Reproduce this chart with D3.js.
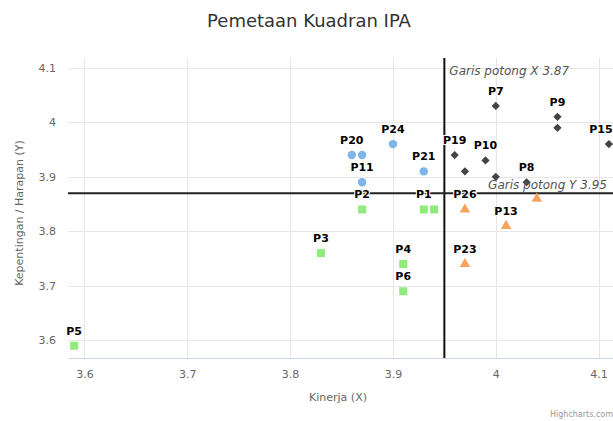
<!DOCTYPE html>
<html>
<head>
<meta charset="utf-8">
<script src="https://cdn.jsdelivr.net/npm/d3@7"></script>
<style>
  body { margin: 0; background: #fff; }
  svg { display: block; font-family: 'DejaVu Sans', sans-serif; }
</style>
</head>
<body>
<div id="chart"></div>
<script>
// quadrant series (label '' = hidden label)
const greenNames = ['P5', 'P3', 'P2', 'P1', '', 'P4', 'P6']
const greenX = [3.59, 3.83, 3.87, 3.93, 3.94, 3.91, 3.91]
const greenY = [3.59, 3.76, 3.84, 3.84, 3.84, 3.74, 3.69]

const blueNames = ['P20', '', 'P24', 'P11', 'P21']
const blueX = [3.86, 3.87, 3.9, 3.87, 3.93]
const blueY = [3.94, 3.94, 3.96, 3.89, 3.91]

const blackNames = ['P19', '', 'P10', '', 'P7', 'P9', '', 'P15', 'P8']
const blackX = [3.96, 3.97, 3.99, 4.0, 4.0, 4.06, 4.06, 4.11, 4.03]
const blackY = [3.94, 3.91, 3.93, 3.9, 4.03, 4.01, 3.99, 3.96, 3.89]

const orangeNames = ['P26', 'P13', 'P23', '']
const orangeX = [3.97, 4.01, 3.97, 4.04]
const orangeY = [3.84, 3.81, 3.74, 3.86]

const xTicks = [3.6, 3.7, 3.8, 3.9, 4, 4.1]
const yTicks = [3.6, 3.7, 3.8, 3.9, 4, 4.1]
const cutX = 3.95
const cutY = 3.87

const width = 613
const height = 421
const margin = { top: 58, left: 68, right: 0, bottom: 63 }

const svg = d3
  .select('#chart')
  .append('svg')
  .attr('width', width)
  .attr('height', height)

const x = d3.scaleLinear().domain([3.584, 4.114]).range([margin.left, width - margin.right])
const y = d3.scaleLinear().domain([3.5675, 4.118]).range([height - margin.bottom, margin.top])

// title
svg.append('text')
  .attr('x', 309)
  .attr('y', 27)
  .attr('text-anchor', 'middle')
  .attr('font-size', 18)
  .attr('fill', '#333')
  .text('Pemetaan Kuadran IPA')

// grid
svg.append('g')
  .selectAll('line')
  .data(yTicks)
  .enter()
  .append('line')
  .attr('x1', margin.left)
  .attr('x2', width)
  .attr('y1', d => Math.round(y(d)) + 0.5)
  .attr('y2', d => Math.round(y(d)) + 0.5)
  .attr('stroke', '#e6e6e6')

svg.append('g')
  .selectAll('line')
  .data(xTicks)
  .enter()
  .append('line')
  .attr('x1', d => Math.round(x(d)) + 0.5)
  .attr('x2', d => Math.round(x(d)) + 0.5)
  .attr('y1', margin.top)
  .attr('y2', height - margin.bottom)
  .attr('stroke', '#e6e6e6')

// axes
const xAxis = svg.append('g')
  .attr('transform', 'translate(0,' + (height - margin.bottom) + ')')
  .call(d3.axisBottom(x).tickValues(xTicks).tickSize(0).tickPadding(12).tickFormat(d3.format('')))
xAxis.select('.domain').attr('stroke', '#ccd6eb')

const yAxis = svg.append('g')
  .attr('transform', 'translate(' + (margin.left - 12) + ',0)')
  .call(d3.axisLeft(y).tickValues(yTicks).tickSize(0).tickPadding(0).tickFormat(d3.format('')))
yAxis.select('.domain').remove()

svg.selectAll('.tick text')
  .attr('fill', '#666')
  .attr('font-size', 11)
  .attr('font-family', 'DejaVu Sans, sans-serif')

svg.append('text')
  .attr('x', 338)
  .attr('y', 401)
  .attr('text-anchor', 'middle')
  .attr('font-size', 11)
  .attr('fill', '#666')
  .text('Kinerja (X)')

svg.append('text')
  .attr('transform', 'translate(23,' + 213 + ') rotate(-90)')
  .attr('text-anchor', 'middle')
  .attr('font-size', 11)
  .attr('fill', '#666')
  .text('Kepentingan / Harapan (Y)')

svg.append('text')
  .attr('x', 613)
  .attr('y', 417)
  .attr('text-anchor', 'end')
  .attr('font-size', 8)
  .attr('fill', '#999')
  .text('Highcharts.com')

// cut lines
svg.append('line')
  .attr('x1', x(cutX))
  .attr('x2', x(cutX))
  .attr('y1', margin.top)
  .attr('y2', height - margin.bottom)
  .attr('stroke', '#111')
  .attr('stroke-width', 2)

svg.append('line')
  .attr('x1', margin.left)
  .attr('x2', width)
  .attr('y1', y(cutY))
  .attr('y2', y(cutY))
  .attr('stroke', '#222')
  .attr('stroke-width', 2)

svg.append('text')
  .attr('x', x(cutX) + 5)
  .attr('y', 75)
  .attr('font-size', 12)
  .attr('font-style', 'italic')
  .attr('fill', '#555')
  .text('Garis potong X 3.87')

// series
const diamond = d3.symbol().type(d3.symbolSquare).size(34)
const series = [
  { names: greenNames, xs: greenX, ys: greenY, color: '#90ed7d', path: d3.symbol().type(d3.symbolSquare).size(64), rot: 0 },
  { names: blueNames, xs: blueX, ys: blueY, color: '#7cb5ec', path: d3.symbol().type(d3.symbolCircle).size(56), rot: 0 },
  { names: blackNames, xs: blackX, ys: blackY, color: '#434348', path: diamond, rot: 45 },
  { names: orangeNames, xs: orangeX, ys: orangeY, color: '#f7a35c', path: d3.symbol().type(d3.symbolTriangle).size(48), rot: 0 }
]

series.forEach(s => {
  const pts = s.xs.map((v, i) => ({ x: v, y: s.ys[i], name: s.names[i] }))
  svg.append('g')
    .selectAll('path')
    .data(pts)
    .enter()
    .append('path')
    .attr('d', s.path)
    .attr('transform', d => 'translate(' + x(d.x) + ',' + y(d.y) + ') rotate(' + s.rot + ')')
    .attr('fill', s.color)
})

series.forEach(s => {
  const pts = s.xs.map((v, i) => ({ x: v, y: s.ys[i], name: s.names[i] }))
  svg.append('g')
    .selectAll('text')
    .data(pts.filter(d => d.name))
    .enter()
    .append('text')
    .attr('x', d => Math.min(x(d.x), width - d.name.length * 4))
    .attr('y', d => y(d.y) - 11)
    .attr('text-anchor', 'middle')
    .attr('font-size', 11)
    .attr('font-weight', 'bold')
    .attr('fill', '#000')
    .attr('stroke', '#fff')
    .attr('stroke-width', 2)
    .attr('paint-order', 'stroke')
    .text(d => d.name)
})

svg.append('text')
  .attr('x', 607)
  .attr('y', 189)
  .attr('text-anchor', 'end')
  .attr('font-size', 12)
  .attr('font-style', 'italic')
  .attr('fill', '#555')
  .text('Garis potong Y 3.95')
</script>
</body>
</html>
